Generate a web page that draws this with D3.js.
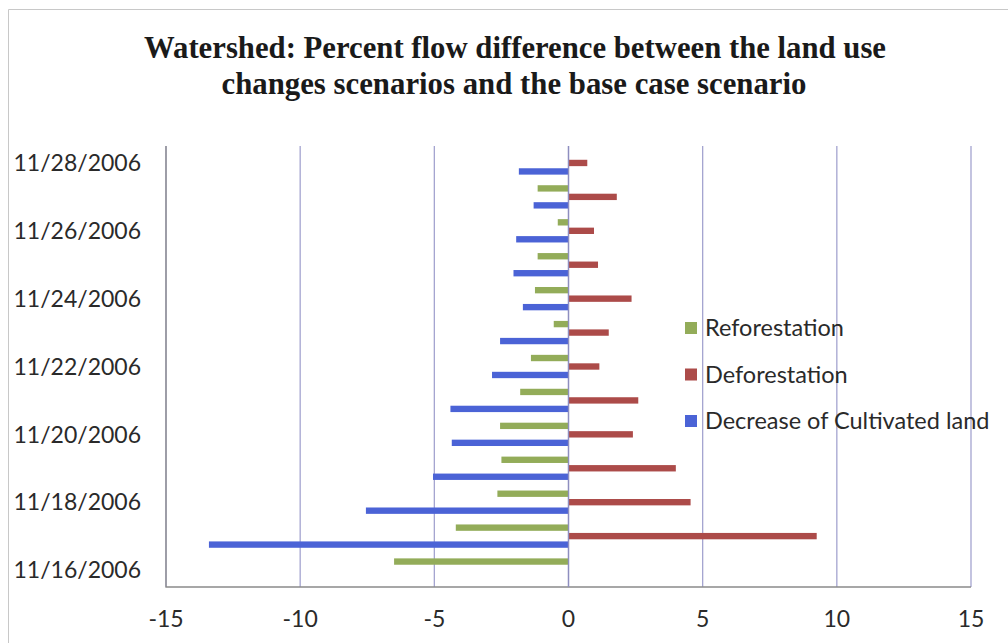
<!DOCTYPE html>
<html>
<head>
<meta charset="utf-8">
<script src="https://cdn.jsdelivr.net/npm/d3@7"></script>
<style>
  body { margin: 0; background: #fff; }
  svg { display: block; }
</style>
</head>
<body>
<div id="app"></div>
<script>
// data (percent flow difference vs. base case)
const dates = ["11/16/2006", "11/17/2006", "11/18/2006", "11/19/2006", "11/20/2006", "11/21/2006", "11/22/2006",
    "11/23/2006", "11/24/2006", "11/25/2006", "11/26/2006", "11/27/2006", "11/28/2006"];
const reforestation = [-6.5, -4.2, -2.65, -2.5, -2.55, -1.8, -1.4, -0.55, -1.25, -1.15, -0.4, -1.15, 0];
const deforestation = [0, 9.25, 4.55, 4.0, 2.4, 2.6, 1.15, 1.5, 2.35, 1.1, 0.95, 1.8, 0.7];
const cultivated = [0, -13.4, -7.55, -5.05, -4.35, -4.4, -2.85, -2.55, -1.7, -2.05, -1.95, -1.3, -1.85];
const seriesNames = ["Reforestation", "Deforestation", "Decrease of Cultivated land"];
const seriesColors = ["#93ac59", "#ac4b49", "#4b63d6"];
const xTicks = [-15, -10, -5, 0, 5, 10, 15];
const dateLabels = ["11/16/2006", "11/18/2006", "11/20/2006", "11/22/2006", "11/24/2006", "11/26/2006", "11/28/2006"];

const width = 1008, height = 643;
const svg = d3.select('#app').append('svg').attr('width', width).attr('height', height);

// outer chart frame (only left and top visible in the scan)
svg.append('path')
    .attr('d', 'M8.5,' + height + ' V9.5 H' + width)
    .attr('fill', 'none').attr('stroke', '#c8c8c8');

// title
const title = svg.append('text')
    .attr('font-family', '"Liberation Serif", "Times New Roman", serif')
    .attr('font-weight', 'bold')
    .attr('font-size', 31)
    .attr('fill', '#1a1a1a')
    .attr('text-anchor', 'middle');
title.append('tspan').attr('x', 515).attr('y', 58).attr('textLength', 742).attr('lengthAdjust', 'spacingAndGlyphs')
    .text('Watershed: Percent flow difference between the land use');
title.append('tspan').attr('x', 514).attr('y', 94).attr('textLength', 585).attr('lengthAdjust', 'spacingAndGlyphs')
    .text('changes scenarios and the base case scenario');

const x = d3.scaleLinear().domain([-15, 15]).range([166, 971]);
const y = d3.scaleBand().domain(dates.slice().reverse()).range([146, 587]).paddingInner(0.25).paddingOuter(0.125);
const inner = d3.scaleBand().domain(seriesNames).range([0, y.bandwidth()]).paddingInner(0.25).paddingOuter(0.125);

// gridlines
svg.append('g').selectAll('line').data(xTicks).enter().append('line')
    .attr('x1', d => x(d)).attr('x2', d => x(d))
    .attr('y1', 146).attr('y2', 587)
    .attr('stroke', '#a4a4d0').attr('stroke-width', 1.3);

// plot frame: left + bottom
svg.append('path')
    .attr('d', `M${x(-15)},146 V587 H${x(15)}`)
    .attr('fill', 'none').attr('stroke', '#8a8a8a').attr('stroke-width', 1.3);

const rows = dates.map((d, i) => ({ date: d, values: [reforestation[i], deforestation[i], cultivated[i]] }));

const groups = svg.append('g').selectAll('g').data(rows).enter().append('g')
    .attr('transform', d => `translate(0,${y(d.date)})`);

groups.selectAll('rect').data(d => d.values.map((v, j) => ({ name: seriesNames[j], value: v, color: seriesColors[j] })))
    .enter().filter(d => d.value !== 0).append('rect')
    .attr('x', d => x(Math.min(0, d.value)))
    .attr('width', d => Math.abs(x(d.value) - x(0)))
    .attr('y', d => inner(d.name))
    .attr('height', inner.bandwidth())
    .attr('fill', d => d.color);

// zero axis line over the bars
svg.append('line')
    .attr('x1', x(0)).attr('x2', x(0)).attr('y1', 146).attr('y2', 587)
    .attr('stroke', '#8e8ebf').attr('stroke-width', 1.3);

const labelFont = 'Lato, "Open Sans", sans-serif';

// category axis labels
svg.append('g').selectAll('text').data(dateLabels).enter().append('text')
    .attr('x', 141)
    .attr('y', d => y(d) + y.bandwidth() / 2)
    .attr('dy', '0.36em')
    .attr('text-anchor', 'end')
    .attr('font-family', labelFont)
    .attr('font-size', 23)
    .attr('fill', '#2a2a2a')
    .text(d => d);

// value axis labels
svg.append('g').selectAll('text').data(xTicks).enter().append('text')
    .attr('x', d => x(d))
    .attr('y', 619)
    .attr('dy', '0.36em')
    .attr('text-anchor', 'middle')
    .attr('font-family', labelFont)
    .attr('font-size', 23)
    .attr('fill', '#2a2a2a')
    .text(d => d);

// legend
const legend = svg.append('g').selectAll('g').data(seriesNames).enter().append('g')
    .attr('transform', (d, i) => `translate(685,${328 + i * 46.5})`);
legend.append('rect')
    .attr('x', 0).attr('y', -6).attr('width', 12).attr('height', 12)
    .attr('fill', (d, i) => seriesColors[i]);
legend.append('text')
    .attr('x', 20).attr('y', 0).attr('dy', '0.36em')
    .attr('font-family', labelFont)
    .attr('font-size', 23.5)
    .attr('fill', '#2a2a2a')
    .text(d => d);
</script>
</body>
</html>
